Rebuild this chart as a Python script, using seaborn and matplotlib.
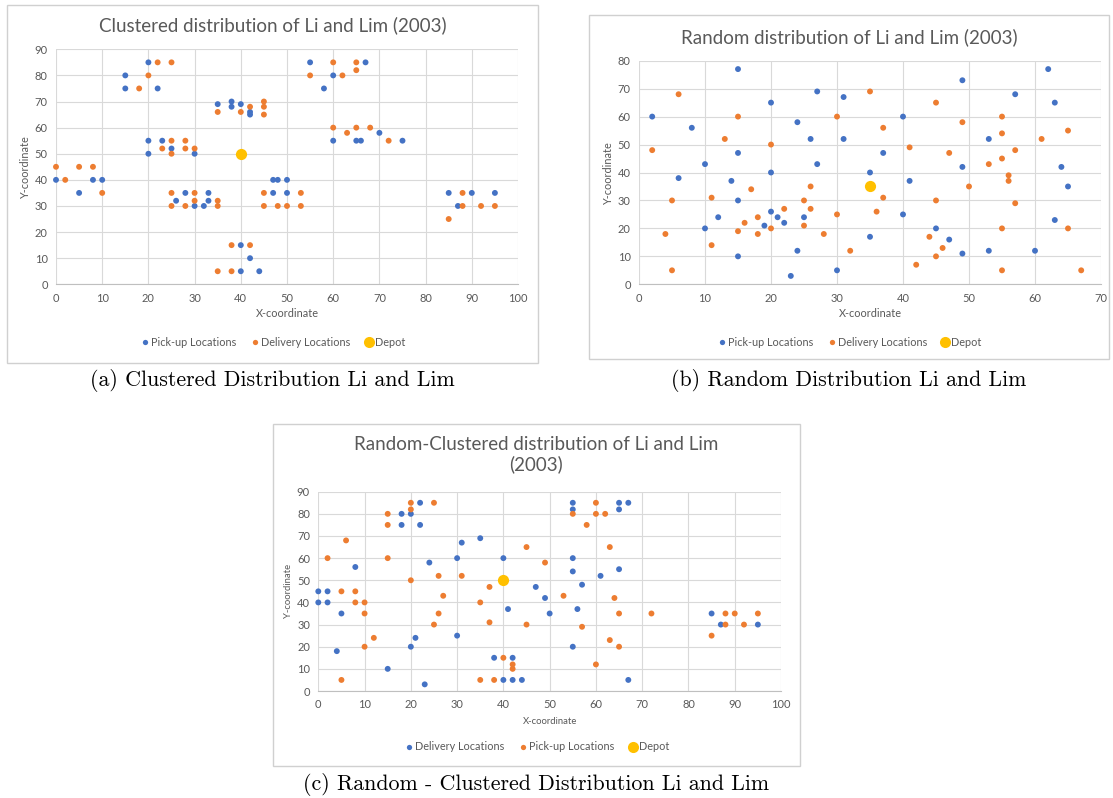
import numpy as np
import pandas as pd
import matplotlib
matplotlib.use("Agg")
import matplotlib.pyplot as plt
import seaborn as sns
from matplotlib.lines import Line2D
from matplotlib.patches import Rectangle

# ---------------- data ----------------
# (a) Clustered distribution
a_pick_x = [42,42,40,38,38,35,22,20,15,15,30,25,23,20,20,10,8,5,0,33,33,32,30,28,26,44,42,40,40,50,50,48,47,47,95,90,87,85,75,70,66,65,60,67,60,58,55]
a_pick_y = [66,65,69,68,70,69,75,85,75,80,50,52,55,50,55,40,40,35,40,32,35,30,30,35,32,5,10,5,15,35,40,40,35,40,35,35,30,35,55,58,55,55,55,85,80,75,85]
a_del_x = [45,45,42,40,35,25,22,20,18,30,28,28,25,25,23,10,8,5,2,0,35,35,30,30,28,25,25,42,38,38,35,50,48,45,45,95,53,92,53,45,88,88,85,72,68,65,63,60,65,65,62,60,55]
a_del_y = [68,70,68,66,66,85,85,80,75,52,52,55,50,55,52,35,45,45,40,45,30,32,32,35,30,30,35,15,5,15,5,30,30,30,35,30,30,30,35,65,30,35,25,55,60,60,58,60,85,82,80,85,80]
a_depot = (40, 50)

# (b) Random distribution
b_pick_x = [35,15,10,20,15,30,10,20,45,65,35,41,64,40,31,53,63,2,60,40,24,23,6,8,27,63,53,21,12,24,27,15,62,49,37,57,47,49,49,15,14,26,31,22,25,19,20]
b_pick_y = [17,30,43,65,10,5,20,40,20,35,40,37,42,60,52,52,65,60,12,25,12,3,38,56,43,23,12,24,24,58,69,77,77,73,47,68,16,11,42,47,37,52,67,22,24,21,26]
b_del_x = [41,55,55,25,20,55,30,50,30,5,15,45,45,55,65,45,35,65,20,5,42,11,2,13,6,47,49,37,57,32,36,17,67,56,37,44,46,53,61,57,56,55,11,16,4,28,26,15,18,26,22,25,18]
b_del_y = [49,45,20,30,50,60,60,35,25,30,60,65,10,5,20,30,69,55,20,5,7,14,48,52,68,47,58,31,29,12,26,34,5,39,56,17,13,43,52,48,37,54,31,22,18,18,35,19,24,27,27,21,18]
b_depot = (35, 35)

# (c) Random-Clustered distribution (blue = delivery, orange = pick-up)
c_del_x = [22,22,20,18,5,2,0,0,44,42,40,38,95,87,85,67,65,65,55,55,18,2,42,55,55,30,50,30,15,41,40,35,65,20,23,8,47,21,24,67,49,61,57,56,55,4,31]
c_del_y = [75,85,80,75,35,40,40,45,5,15,5,15,30,30,35,85,85,82,85,82,80,45,5,20,60,60,35,25,10,37,60,69,55,20,3,56,47,24,58,5,42,52,48,37,54,18,67]
c_pick_x = [25,20,15,15,10,10,8,8,5,42,40,38,35,95,92,90,88,88,85,62,60,60,58,55,20,42,72,25,20,10,15,45,65,65,45,35,64,31,63,2,5,60,6,49,27,37,57,63,12,37,53,26,26]
c_pick_y = [85,85,75,80,35,40,40,45,45,10,15,5,5,35,30,35,30,35,25,80,80,85,75,80,82,12,35,30,50,20,60,65,35,20,30,40,42,52,65,60,5,12,68,58,43,31,29,23,24,47,43,52,35]
c_depot = (40, 50)

titles = ["Clustered distribution of Li and Lim (2003)",
          "Random distribution of Li and Lim (2003)",
          "Random-Clustered distribution of Li and Lim\n(2003)"]
captions = ["(a) Clustered Distribution Li and Lim",
            "(b) Random Distribution Li and Lim",
            "(c) Random - Clustered Distribution Li and Lim"]

# ---------------- style ----------------
sns.set_theme(style="white")
plt.rcParams['font.family'] = ['Lato', 'DejaVu Sans']

W, H = 1113, 798
fig = plt.figure(figsize=(W / 100, H / 100), dpi=100)

BLUE, ORANGE, GOLD = '#4472C4', '#ED7D31', '#FFC000'
GRID, TXT, BORDER = '#D9D9D9', '#595959', '#D0D0D0'


def fx(px):
    return px / W


def fy(py):
    return 1 - py / H


def draw_panel(box, plot, xmax, ymax, blue_xy, orange_xy, depot, labels,
               title, title_y, caption, cap_y, xlabel_y, legend_y, ylabel_x,
               lab_fs=7.8):
    l, t, r, b = box
    fig.patches.append(Rectangle((fx(l), fy(b)), (r - l) / W, (b - t) / H,
                                 transform=fig.transFigure, fill=False,
                                 edgecolor=BORDER, lw=1.0))
    pl, pt, pr, pb = plot
    ax = fig.add_axes([fx(pl), fy(pb), (pr - pl) / W, (pb - pt) / H])
    df = pd.DataFrame({
        'x': list(blue_xy[0]) + list(orange_xy[0]),
        'y': list(blue_xy[1]) + list(orange_xy[1]),
        'kind': [labels[0]] * len(blue_xy[0]) + [labels[1]] * len(orange_xy[0]),
    })
    sns.scatterplot(data=df, x='x', y='y', hue='kind',
                    palette={labels[0]: BLUE, labels[1]: ORANGE},
                    s=18, linewidth=0, legend=False, ax=ax, clip_on=False, zorder=3)
    dp = pd.DataFrame({'x': [depot[0]], 'y': [depot[1]]})
    sns.scatterplot(data=dp, x='x', y='y', color=GOLD, s=65, linewidth=0,
                    legend=False, ax=ax, clip_on=False, zorder=4)
    ax.set_xlim(0, xmax)
    ax.set_ylim(0, ymax)
    ax.set_xticks(np.arange(0, xmax + 1, 10))
    ax.set_yticks(np.arange(0, ymax + 1, 10))
    ax.grid(True, color=GRID, lw=0.8)
    ax.set_axisbelow(True)
    for s in ['top', 'right', 'left']:
        ax.spines[s].set_visible(False)
    ax.spines['bottom'].set_color('#BFBFBF')
    ax.spines['bottom'].set_linewidth(0.8)
    ax.tick_params(length=0, labelsize=8, colors=TXT, pad=6)
    for lab in ax.get_xticklabels() + ax.get_yticklabels():
        lab.set_color(TXT)
    ax.set_xlabel('')
    ax.set_ylabel('')
    cx_box = (l + r) / 2
    cx_plot = (pl + pr) / 2
    fig.text(fx(cx_box), fy(title_y), title, ha='center', va='center',
             fontsize=13.5, color=TXT, linespacing=1.15)
    fig.text(fx(cx_plot), fy(xlabel_y), 'X-coordinate', ha='center', va='center',
             fontsize=lab_fs, color=TXT)
    fig.text(fx(ylabel_x), fy((pt + pb) / 2), 'Y-coordinate', ha='center', va='center',
             fontsize=lab_fs, color=TXT, rotation=90)
    handles = [Line2D([], [], ls='none', marker='o', ms=3.8, color=BLUE, mew=0),
               Line2D([], [], ls='none', marker='o', ms=3.8, color=ORANGE, mew=0),
               Line2D([], [], ls='none', marker='o', ms=8, color=GOLD, mew=0)]
    leg = fig.legend(handles, [labels[0], labels[1], 'Depot'], loc='center',
                     bbox_to_anchor=(fx(cx_box), fy(legend_y)), ncol=3, frameon=False,
                     fontsize=7.8, handletextpad=0.05, columnspacing=1.2,
                     handlelength=1.0, borderaxespad=0)
    for txt in leg.get_texts():
        txt.set_color(TXT)
    fig.text(fx(cx_box), fy(cap_y), caption, ha='center', va='center',
             fontsize=15.8, color='black', family=['cmr10', 'DejaVu Serif'])
    return ax


draw_panel(box=(7, 5, 538, 363), plot=(56, 49.3, 518, 284.3), xmax=100, ymax=90,
           blue_xy=(a_pick_x, a_pick_y), orange_xy=(a_del_x, a_del_y), depot=a_depot,
           labels=['Pick-up Locations', 'Delivery Locations'],
           title=titles[0], title_y=25, caption=captions[0], cap_y=380,
           xlabel_y=314, legend_y=342, ylabel_x=25)

draw_panel(box=(589, 15, 1109, 359), plot=(639, 60.7, 1101, 284.3), xmax=70, ymax=80,
           blue_xy=(b_pick_x, b_pick_y), orange_xy=(b_del_x, b_del_y), depot=b_depot,
           labels=['Pick-up Locations', 'Delivery Locations'],
           title=titles[1], title_y=37, caption=captions[1], cap_y=380,
           xlabel_y=314, legend_y=342, ylabel_x=608)

draw_panel(box=(273, 424, 800, 766), plot=(318.3, 491.7, 781, 691), xmax=100, ymax=90,
           blue_xy=(c_del_x, c_del_y), orange_xy=(c_pick_x, c_pick_y), depot=c_depot,
           labels=['Delivery Locations', 'Pick-up Locations'],
           title=titles[2], title_y=455, caption=captions[2], cap_y=784,
           xlabel_y=721, legend_y=747, ylabel_x=289, lab_fs=6.8)

fig.savefig('out.png', dpi=100)
